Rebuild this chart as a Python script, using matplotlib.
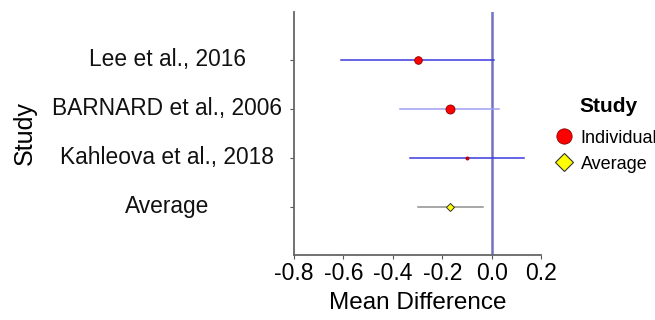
import matplotlib.pyplot as plt
from matplotlib.lines import Line2D
from matplotlib.transforms import blended_transform_factory

plt.rcParams['font.family'] = ['Liberation Sans', 'DejaVu Sans']

# Forest plot data (top to bottom)
studies = ["Lee et al., 2016", "BARNARD et al., 2006", "Kahleova et al., 2018", "Average"]
mean_diff = [-0.30, -0.17, -0.10, -0.17]
ci_low = [-0.61, -0.37, -0.33, -0.30]
ci_high = [0.01, 0.03, 0.13, -0.035]
kinds = ["Individual", "Individual", "Individual", "Average"]
point_size = [5.5, 6.5, 2.2, 5.0]
ci_colors = ["#3b3be0", "#a0a0f0", "#3b3be0", "#909090"]

x_ticks = [-0.8, -0.6, -0.4, -0.2, 0.0, 0.2]

fig = plt.figure(figsize=(6.55, 3.2), dpi=100)
ax = fig.add_axes([0.449, 0.203, 0.377, 0.760])

ypos = list(range(len(studies), 0, -1))

ax.axvline(0, color="#7272c4", lw=1.8, zorder=1)

for y, m, lo, hi, kind, ms, c in zip(ypos, mean_diff, ci_low, ci_high,
                                     kinds, point_size, ci_colors):
    ax.plot([lo, hi], [y, y], color=c, lw=1.1, zorder=2)
    if kind == "Individual":
        ax.plot(m, y, "o", ms=ms, mfc="red", mec="#8b0000", mew=0.6, zorder=3)
    else:
        ax.plot(m, y, "D", ms=ms * 0.8, mfc="yellow", mec="#333333", mew=0.7, zorder=3)

ax.set_xlim(-0.8, 0.2)
ax.set_ylim(0.02, len(studies) + 0.98)
ax.set_xticks(x_ticks)
ax.set_xticklabels([f"{t:.1f}" for t in x_ticks], fontsize=16.5)
ax.set_yticks(ypos)
ax.set_yticklabels([])

# centred study labels to the left of the axis
trans = blended_transform_factory(fig.transFigure, ax.transData)
for y, name in zip(ypos, studies):
    ax.text(0.2557, y, name, transform=trans, ha="center", va="center",
            fontsize=16.4, color="#111111")

for side in ["top", "right"]:
    ax.spines[side].set_visible(False)
for side in ["left", "bottom"]:
    ax.spines[side].set_color("#666666")
    ax.spines[side].set_linewidth(1.3)
ax.tick_params(axis="both", color="#555555", length=3, width=0.8)
ax.tick_params(axis="x", pad=2)

ax.set_xlabel("Mean Difference", fontsize=17.5, labelpad=5)
fig.text(0.038, 0.583, "Study", rotation=90, ha="center", va="center", fontsize=18)

handles = [
    Line2D([], [], ls="none", marker="o", ms=11, mfc="red", mec="#8b0000", mew=0.6),
    Line2D([], [], ls="none", marker="D", ms=9, mfc="yellow", mec="#333333", mew=0.8),
]
fig.legend(handles, ["Individual", "Average"],
           loc="center left", bbox_to_anchor=(0.845, 0.528), frameon=False,
           fontsize=13, handletextpad=0.3, labelspacing=0.5,
           borderaxespad=0, borderpad=0, handlelength=1.2)
fig.text(0.885, 0.666, "Study", ha="left", va="center", fontsize=15,
         fontweight="bold")

fig.savefig("out.png", dpi=100)
